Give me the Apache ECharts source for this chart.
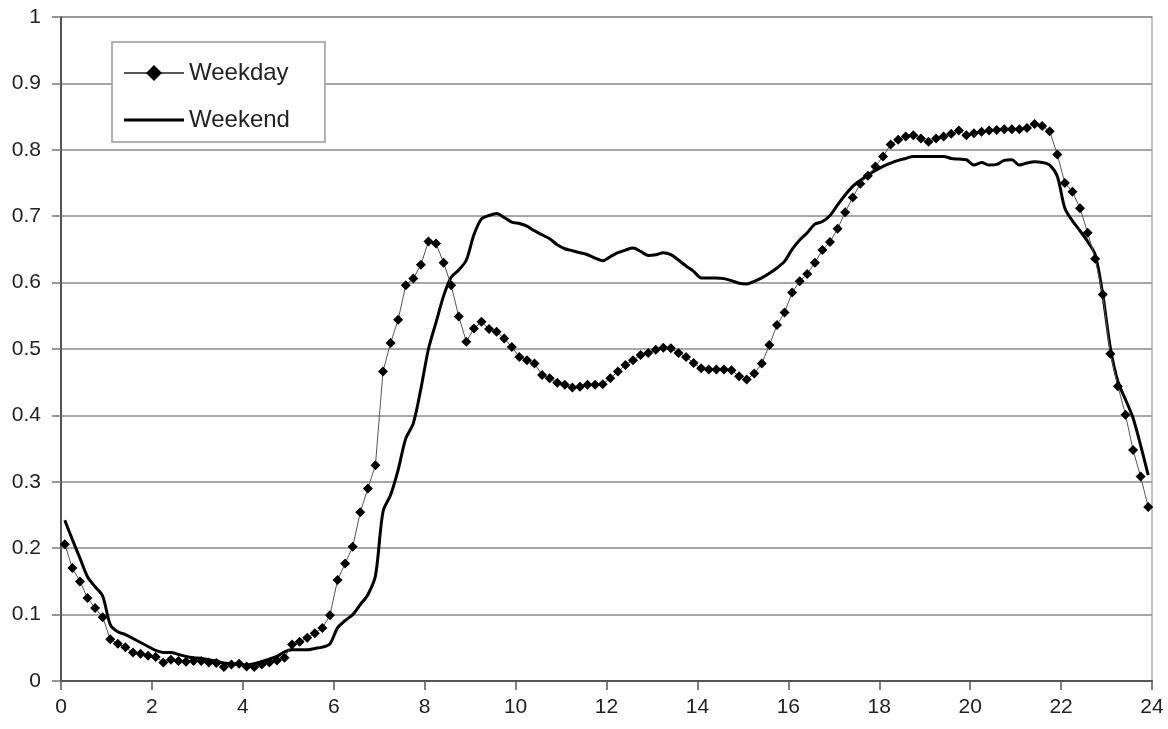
<!DOCTYPE html>
<html>
<head>
<meta charset="utf-8">
<title>Weekday vs Weekend</title>
<script src="https://cdn.jsdelivr.net/npm/echarts@6/dist/echarts.min.js"></script>
<style>
  html, body { margin: 0; padding: 0; background: #fff; }
  #chart { width: 1168px; height: 729px; }
</style>
</head>
<body>
<div id="chart"></div>
<script>
// x ticks (hours) and y ticks
const hourTicks = [0, 2, 4, 6, 8, 10, 12, 14, 16, 18, 20, 22, 24]
const valueTicks = [0, 0.1, 0.2, 0.3, 0.4, 0.5, 0.6, 0.7, 0.8, 0.9, 1]

// one value per 10-minute bin, one row per hour
const weekday = [
  0.206, 0.170, 0.150, 0.125, 0.110, 0.096,
  0.063, 0.056, 0.051, 0.043, 0.041, 0.038,
  0.036, 0.028, 0.032, 0.030, 0.029, 0.030,
  0.030, 0.028, 0.027, 0.021, 0.025, 0.026,
  0.022, 0.021, 0.025, 0.028, 0.031, 0.035,
  0.055, 0.059, 0.065, 0.072, 0.080, 0.099,
  0.152, 0.177, 0.202, 0.254, 0.290, 0.325,
  0.466, 0.509, 0.544, 0.596, 0.606, 0.627,
  0.662, 0.659, 0.630, 0.596, 0.549, 0.511,
  0.531, 0.541, 0.530, 0.526, 0.516, 0.503,
  0.488, 0.483, 0.478, 0.461, 0.456, 0.449,
  0.446, 0.442, 0.443, 0.446, 0.446, 0.447,
  0.456, 0.466, 0.476, 0.483, 0.491, 0.494,
  0.499, 0.502, 0.501, 0.494, 0.488, 0.479,
  0.471, 0.469, 0.469, 0.469, 0.468, 0.459,
  0.454, 0.463, 0.478, 0.506, 0.536, 0.555,
  0.585, 0.602, 0.613, 0.630, 0.649, 0.661,
  0.681, 0.706, 0.728, 0.749, 0.761, 0.775,
  0.790, 0.808, 0.815, 0.820, 0.822, 0.817,
  0.812, 0.817, 0.820, 0.824, 0.829, 0.822,
  0.825, 0.827, 0.829, 0.830, 0.831, 0.831,
  0.831, 0.833, 0.839, 0.836, 0.828, 0.793,
  0.750, 0.737, 0.712, 0.675, 0.636, 0.582,
  0.493, 0.444, 0.401, 0.348, 0.308, 0.262
]

const weekend = [
  0.242, 0.213, 0.185, 0.157, 0.142, 0.128,
  0.085, 0.074, 0.070, 0.064, 0.058, 0.052,
  0.046, 0.043, 0.043, 0.040, 0.037, 0.035,
  0.034, 0.032, 0.030, 0.027, 0.026, 0.025,
  0.024, 0.026, 0.029, 0.033, 0.037, 0.044,
  0.047, 0.047, 0.047, 0.049, 0.051, 0.056,
  0.080, 0.091, 0.100, 0.115, 0.130, 0.158,
  0.255, 0.280, 0.318, 0.365, 0.388, 0.440,
  0.500, 0.540, 0.580, 0.608, 0.619, 0.634,
  0.672, 0.696, 0.701, 0.704, 0.698, 0.691,
  0.689, 0.685, 0.678, 0.672, 0.666, 0.657,
  0.651, 0.648, 0.645, 0.642, 0.637, 0.633,
  0.639, 0.645, 0.649, 0.652, 0.647, 0.641,
  0.642, 0.645, 0.642, 0.634, 0.625, 0.617,
  0.607, 0.607, 0.607, 0.606, 0.603, 0.599,
  0.598, 0.602, 0.607, 0.614, 0.622, 0.632,
  0.650, 0.664, 0.675, 0.688, 0.692, 0.701,
  0.717, 0.732, 0.745, 0.754, 0.762, 0.769,
  0.775, 0.780, 0.784, 0.787, 0.790, 0.790,
  0.790, 0.790, 0.790, 0.787, 0.786, 0.785,
  0.777, 0.781, 0.777, 0.778, 0.784, 0.785,
  0.777, 0.780, 0.782, 0.781, 0.777, 0.760,
  0.712, 0.693, 0.678, 0.662, 0.642, 0.582,
  0.502, 0.451, 0.424, 0.396, 0.355, 0.310
]

// bin midpoints in hours (10-minute bins)
const times = weekday.map((_, i) => (i + 0.5) / 6)

const font = 'Liberation Sans, Arial, sans-serif'
const pairs = (vals) => vals.map((v, i) => [times[i], v])

const buildOption = () => ({
  animation: false,
  textStyle: { fontFamily: font },
  grid: {
    left: 61, right: 16, top: 17, bottom: 48,
    show: true, borderColor: '#b0b0b0', borderWidth: 1.5
  },
  legend: {
    orient: 'vertical',
    left: 112,
    top: 42,
    padding: [19, 35, 10, 11],
    itemWidth: 60,
    itemHeight: 20,
    itemGap: 23,
    symbolKeepAspect: true,
    backgroundColor: '#fff',
    borderColor: '#999',
    borderWidth: 1.5,
    textStyle: { fontSize: 24, color: '#222', fontFamily: font },
    data: [
      { name: 'Weekday' },
      // plain thick bar, no marker
      { name: 'Weekend', icon: 'path://M0,0 H60 V3 H0 Z', itemStyle: { color: '#000' } }
    ]
  },
  xAxis: {
    type: 'value',
    min: hourTicks[0],
    max: hourTicks[hourTicks.length - 1],
    interval: 2,
    axisLine: { show: true, lineStyle: { color: '#555', width: 2 } },
    axisTick: { show: true, length: 9, lineStyle: { color: '#555', width: 1.5 } },
    axisLabel: { fontSize: 21, color: '#222', margin: 16 },
    splitLine: { show: false }
  },
  yAxis: {
    type: 'value',
    min: valueTicks[0],
    max: valueTicks[valueTicks.length - 1],
    interval: 0.1,
    axisLine: { show: true, lineStyle: { color: '#555', width: 2 } },
    axisTick: { show: true, length: 9, lineStyle: { color: '#777', width: 1.5 } },
    axisLabel: { fontSize: 21, color: '#222', margin: 20 },
    splitLine: { show: true, lineStyle: { color: '#8a8a8a', width: 1.5 } }
  },
  series: [
    {
      name: 'Weekend',
      type: 'line',
      data: pairs(weekend),
      symbol: 'none',
      smooth: 0.3,
      lineStyle: { color: '#000', width: 3 },
      itemStyle: { color: '#000' },
      z: 2
    },
    {
      name: 'Weekday',
      type: 'line',
      data: pairs(weekday),
      symbol: 'diamond',
      symbolSize: 10,
      lineStyle: { color: '#555', width: 1 },
      itemStyle: { color: '#000' },
      z: 3
    }
  ]
})

const chart = echarts.init(document.getElementById('chart'))
chart.setOption(buildOption())
</script>
</body>
</html>
